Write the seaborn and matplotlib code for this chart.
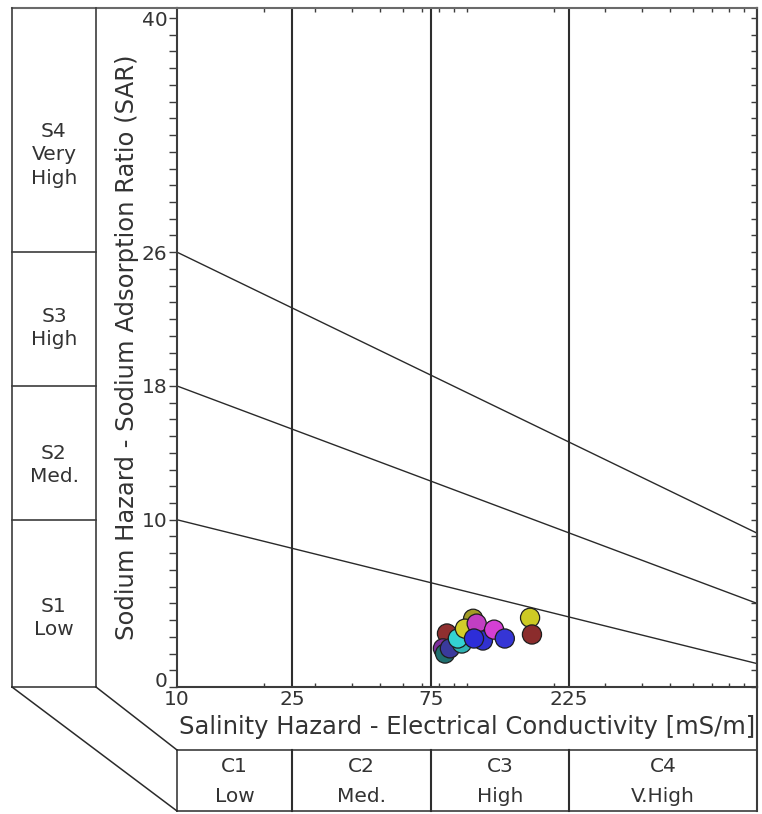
import matplotlib
matplotlib.use("Agg")
import numpy as np
import pandas as pd
import matplotlib.pyplot as plt
import seaborn as sns
from matplotlib.lines import Line2D
from matplotlib.ticker import FixedLocator, NullFormatter
from matplotlib.transforms import blended_transform_factory

# ---- data -------------------------------------------------------------
sample_ids = ["W01", "W02", "W03", "W04", "W05", "W06", "W07", "W08",
              "W09", "W10", "W11", "W12", "W13", "W14", "W15"]
ec_values = [105.0, 85.3, 82.6, 84.0, 87.3, 96.0, 93.0, 98.4,
             108.0, 113.5, 105.7, 124.0, 135.0, 165.0, 167.5]      # mS/m
sar_values = [4.08, 3.20, 2.31, 2.00, 2.31, 2.60, 2.90, 3.49,
              3.79, 2.78, 2.90, 3.43, 2.90, 4.14, 3.14]
sample_colors = ["#a39c26", "#8e2f2f", "#7b2f9c", "#1f6f6f", "#3a3a9c",
                 "#2fb3b3", "#33d2d2", "#d2cd2a", "#c23fc2", "#3131cf",
                 "#2d2dd8", "#d43fd4", "#3535d5", "#cdca24", "#8b2c2c"]

# sodium-hazard class boundaries (SAR at EC = 10 and EC = 1000 mS/m)
boundary_ec = [10, 1000]
boundary_s1_s2 = [10.0, 1.4]
boundary_s2_s3 = [18.0, 5.0]
boundary_s3_s4 = [26.0, 9.2]

# salinity-hazard class edges
salinity_edges = [25, 75, 225]

x_ticks = [10, 25, 75, 225]
y_ticks = [0, 10, 18, 26, 40]

sodium_classes = [("S4\nVery\nHigh", 155), ("S3\nHigh", 328),
                  ("S2\nMed.", 465), ("S1\nLow", 618)]
salinity_classes = [("C1", "Low"), ("C2", "Med."), ("C3", "High"), ("C4", "V.High")]

# ---- style ------------------------------------------------------------
sns.set_style("ticks")
plt.rcParams["font.family"] = ["DejaVu Sans"]
FRAME = "#3c3c3c"
TEXT = "#333333"
FS = 14.5
LABEL_FS = 17.5

W, H = 762, 814
fig = plt.figure(figsize=(W / 100, H / 100), dpi=100)


def fx(px):
    return px / W


def fy(py):
    return 1 - py / H


ax = fig.add_axes([fx(177), fy(687), fx(757) - fx(177), fy(8) - fy(687)])
ax.set_xscale("log")
ax.set_xlim(10, 1000)
ax.set_ylim(0, 40.6)

# salinity class edges
for edge in salinity_edges:
    ax.axvline(edge, color="#2e2e2e", lw=1.5, zorder=1)

# sodium hazard boundaries
for sar_pair in (boundary_s1_s2, boundary_s2_s3, boundary_s3_s4):
    sns.lineplot(x=boundary_ec, y=sar_pair, ax=ax, color="#2a2a2a", lw=1.0,
                 zorder=2, legend=False)

# samples
df = pd.DataFrame({"sample": sample_ids, "EC": ec_values, "SAR": sar_values})
sns.scatterplot(data=df, x="EC", y="SAR", hue="sample",
                palette=dict(zip(sample_ids, sample_colors)),
                s=190, edgecolor="#1e1e1e", linewidth=0.9, legend=False,
                ax=ax, zorder=5)

# ticks
ax.xaxis.set_major_locator(FixedLocator(x_ticks))
ax.set_xticklabels([str(t) for t in x_ticks])
x_minor = [k * 10 ** d for d in (1, 2) for k in range(2, 10)] + [100]
ax.xaxis.set_minor_locator(FixedLocator(x_minor))
ax.xaxis.set_minor_formatter(NullFormatter())
ax.tick_params(axis="x", which="both", direction="in", top=True, bottom=True,
               length=3, width=1.0, color=FRAME, labelsize=FS,
               labelcolor=TEXT, pad=2)
ax.tick_params(axis="x", which="major", length=0)

ax.yaxis.set_major_locator(FixedLocator(y_ticks))
ax.set_yticklabels([str(t) for t in y_ticks])
ax.yaxis.set_minor_locator(FixedLocator(list(range(0, 41))))
ax.tick_params(axis="y", which="both", direction="out", left=True, right=False,
               length=6, width=1.0, color=FRAME, labelsize=FS,
               labelcolor=TEXT, pad=1)

# sit the "0" label on the axis line so it clears the "10" below it
ax.yaxis.get_major_ticks()[0].label1.set_va("baseline")

right = ax.secondary_yaxis("right")
right.yaxis.set_major_locator(FixedLocator(list(range(0, 41))))
right.tick_params(direction="in", length=4, width=1.0, color=FRAME,
                  labelright=False)
right.spines["right"].set_color(FRAME)
right.spines["right"].set_linewidth(1.5)

for sp in ax.spines.values():
    sp.set_color(FRAME)
    sp.set_linewidth(1.5)
ax.spines["top"].set_color("#6a6a6a")

ax.set_xlabel("Salinity Hazard - Electrical Conductivity [mS/m]",
              fontsize=LABEL_FS, color=TEXT)
ax.xaxis.set_label_coords(0.5, (687 - 727) / 679)
ax.xaxis.label.set_va("center")
ax.set_ylabel("Sodium Hazard - Sodium Adsorption Ratio (SAR)",
              fontsize=LABEL_FS, color=TEXT)
ax.yaxis.set_label_coords((127 - 177) / 580, 0.5)
ax.yaxis.label.set_va("center")

# ---- surrounding class panels ------------------------------------------


def fig_line(xs, ys, transform=None, **kw):
    style = dict(color=FRAME, lw=1.2, solid_capstyle="projecting")
    style.update(kw)
    fig.add_artist(Line2D(xs, ys, transform=transform or fig.transFigure,
                          **style))


# sodium column on the left
fig_line([fx(12), fx(177)], [fy(8), fy(8)], color="#6a6a6a", lw=1.5)
fig_line([fx(12), fx(12)], [fy(8), fy(687)])
fig_line([fx(96), fx(96)], [fy(8), fy(687)])
fig_line([fx(12), fx(96)], [fy(687), fy(687)])
row_tf = blended_transform_factory(fig.transFigure, ax.transData)
for level in (boundary_s1_s2[0], boundary_s2_s3[0], boundary_s3_s4[0]):
    fig_line([fx(12), fx(96)], [level, level], transform=row_tf)
for label, ypix in sodium_classes:
    fig.text(fx(54), fy(ypix), label, ha="center", va="center",
             fontsize=FS, color=TEXT, linespacing=1.3, multialignment="center")

# salinity row at the bottom
col_tf = blended_transform_factory(ax.transData, fig.transFigure)
fig_line([fx(177), fx(757)], [fy(750), fy(750)])
fig_line([fx(177), fx(757)], [fy(811), fy(811)])
fig_line([fx(177), fx(177)], [fy(750), fy(811)])
fig_line([fx(757), fx(757)], [fy(687), fy(811)], lw=1.5)
for edge in salinity_edges:
    fig_line([edge, edge], [fy(750), fy(811)], transform=col_tf, lw=1.5,
             color="#2e2e2e")
class_bounds = [10] + salinity_edges + [1000]
for (code, name), lo, hi in zip(salinity_classes, class_bounds[:-1],
                                class_bounds[1:]):
    xc = np.sqrt(lo * hi)
    fig.text(xc, fy(766), code, transform=col_tf, ha="center", va="center",
             fontsize=FS, color=TEXT)
    fig.text(xc, fy(797), name, transform=col_tf, ha="center", va="center",
             fontsize=FS, color=TEXT)

# perspective edges joining the two panels
fig_line([fx(12), fx(177)], [fy(687), fy(811)], lw=1.1, color="#2a2a2a")
fig_line([fx(96), fx(177)], [fy(687), fy(750)], lw=1.1, color="#2a2a2a")

fig.savefig("out.png", dpi=100, facecolor="white")
